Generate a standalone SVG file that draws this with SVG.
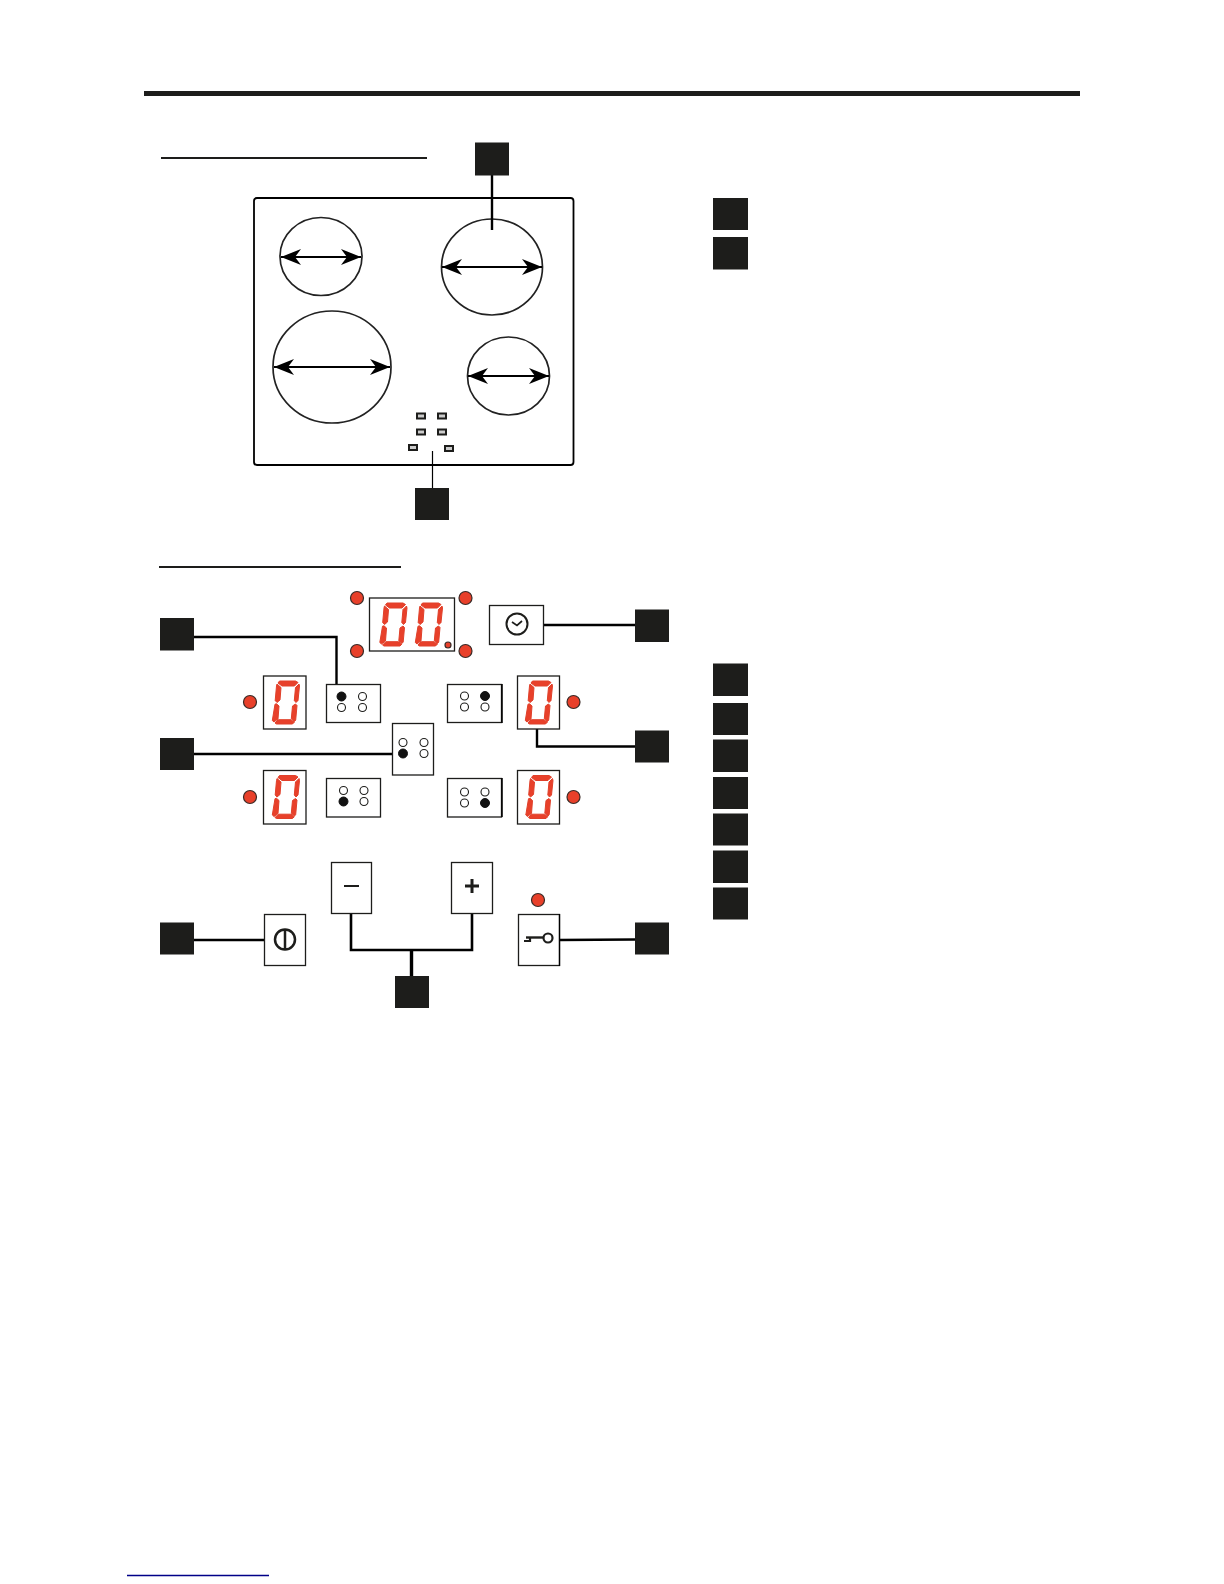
<svg xmlns="http://www.w3.org/2000/svg" xmlns:xlink="http://www.w3.org/1999/xlink" width="1224" height="1584" viewBox="0 0 1224 1584">
<style>
.sq{fill:#1d1d1b}
.box{fill:#fff;stroke:#1d1d1b;stroke-width:1.3}
.led{fill:#e8402a;stroke:#3a2a26;stroke-width:1.2}
.on{fill:#111;stroke:#111;stroke-width:1}
.off{fill:#fff;stroke:#1d1d1b;stroke-width:1.1}
.zone{fill:#fff;stroke:#222;stroke-width:1.7}
.dim{stroke:#000;stroke-width:2.2;fill:none;marker-start:url(#ah);marker-end:url(#ah)}
.wire{fill:none;stroke:#000;stroke-width:2.4}
.seg{fill:#e8402a;stroke:#e0402a;stroke-width:1}
.rule{fill:none;stroke:#1d1d1b}
.key{fill:#ccc;stroke:#1d1d1b;stroke-width:2}
</style>
<defs>
<marker id="ah" viewBox="0 0 20 16" refX="20" refY="8" markerWidth="20" markerHeight="16" markerUnits="userSpaceOnUse" orient="auto-start-reverse"><path d="M0 0L20 8L0 16L6 8Z" fill="#000"/></marker>
<g id="digit">
<polygon class="seg" points="8,0 24,0 26.5,1.5 23,5 10.5,5 6.5,2"/>
<polygon class="seg" points="27.5,3 28,5 26.5,19.5 24.5,21.5 22.8,19.5 24,6.5"/>
<polygon class="seg" points="5.5,3 9.5,6.5 8.5,19 5.5,21.5 3.7,19.5 5,5"/>
<polygon class="seg" points="3.5,23.2 5,22.8 7.5,25 6.5,38 2.5,41 .8,39.5"/>
<polygon class="seg" points="24,23 25.5,24.5 24.2,39 23,40.5 19.8,37.8 21,25"/>
<polygon class="seg" points="3.5,42 6.8,38.7 19.5,38.7 22.8,41.2 21,43 5,43"/>
</g>
</defs>
<rect x="0" y="0" width="1224" height="1584" fill="#fff"/>
<g id="rules">
<rect x="144" y="91" width="936" height="5" class="sq"/>
<line class="rule" stroke-width="2.2" x1="161" y1="158" x2="427" y2="158"/>
<line class="rule" stroke-width="2" x1="159" y1="567" x2="401" y2="567"/>
<line x1="127" y1="1575.500" x2="269" y2="1575.500" stroke="#000088" stroke-width="1.300"/>
</g>
<g id="hob">
<rect x="254" y="198" width="319.500" height="267" rx="3" fill="#fff" stroke="#000" stroke-width="1.800"/>
</g>
<g id="zone-tl"><ellipse class="zone" cx="321" cy="256.500" rx="41" ry="39"/><line class="dim" x1="281" y1="257" x2="361" y2="257"/></g>
<g id="zone-tr"><ellipse class="zone" cx="492" cy="267" rx="50.500" ry="48"/><line class="dim" x1="442" y1="267" x2="542" y2="267"/></g>
<g id="zone-bl"><ellipse class="zone" cx="332" cy="367" rx="59" ry="56"/><line class="dim" x1="274" y1="367" x2="390" y2="367"/></g>
<g id="zone-br"><ellipse class="zone" cx="508.500" cy="376" rx="41" ry="39"/><line class="dim" x1="468" y1="376" x2="549" y2="376"/></g>
<g id="hob-keys">
<rect class="key" x="417" y="413.500" width="8" height="5"/><rect class="key" x="438" y="413.500" width="8" height="5"/>
<rect class="key" x="417" y="429.500" width="8" height="5"/><rect class="key" x="438" y="429.500" width="8" height="5"/>
<rect class="key" x="409" y="445" width="8" height="5"/><rect class="key" x="445" y="446" width="8" height="5"/>
</g>
<g id="connectors">
<path class="wire" d="M492 175V230"/>
<path class="wire" style="stroke-width:1.200" d="M432.500 451V488"/>
<path class="wire" d="M194 637H336.500V684"/>
<path class="wire" d="M194 754H393"/>
<path class="wire" d="M543 625H635"/>
<path class="wire" d="M537 729V746.500H635"/>
<path class="wire" d="M194 940H264"/>
<path class="wire" d="M559 940L635 939.500"/>
<path class="wire" style="stroke-width:2.600" d="M351 913V950H472V913"/>
<path class="wire" style="stroke-width:3.400" d="M411.500 950V976"/>
</g>
<g id="callouts">
<rect class="sq" x="475" y="142.500" width="34" height="33"/>
<rect class="sq" x="415" y="488" width="34" height="32"/>
<rect class="sq" x="160" y="618" width="34" height="32.500"/>
<rect class="sq" x="160" y="738" width="34" height="32"/>
<rect class="sq" x="160" y="922.500" width="34" height="32"/>
<rect class="sq" x="635" y="609.500" width="34" height="32.500"/>
<rect class="sq" x="635" y="730.500" width="34" height="32"/>
<rect class="sq" x="635" y="922.500" width="34" height="32"/>
<rect class="sq" x="395" y="976" width="34" height="32"/>
</g>
<g id="legend">
<rect class="sq" x="713" y="198" width="35" height="32"/>
<rect class="sq" x="713" y="237" width="35" height="32.500"/>
<rect class="sq" x="713" y="663.500" width="35" height="32.500"/>
<rect class="sq" x="713" y="703" width="35" height="32"/>
<rect class="sq" x="713" y="739.500" width="35" height="32.500"/>
<rect class="sq" x="713" y="777" width="35" height="32"/>
<rect class="sq" x="713" y="813.500" width="35" height="32"/>
<rect class="sq" x="713" y="850.500" width="35" height="32.500"/>
<rect class="sq" x="713" y="887.500" width="35" height="32"/>
</g>
<g id="timer-display">
<rect class="box" x="369.500" y="598" width="85" height="53"/>
<use xlink:href="#digit" href="#digit" x="379" y="603"/>
<use xlink:href="#digit" href="#digit" x="414.500" y="603"/>
<circle class="led" cx="448" cy="645" r="3"/>
<circle class="led" cx="357" cy="598" r="6.500"/><circle class="led" cx="465.500" cy="598" r="6.500"/>
<circle class="led" cx="357" cy="651" r="6.500"/><circle class="led" cx="465.500" cy="651" r="6.500"/>
</g>
<g id="clock-key">
<rect class="box" x="489.500" y="605.500" width="54" height="39"/>
<circle cx="517" cy="624" r="10.500" fill="none" stroke="#1d1d1b" stroke-width="2"/>
<path d="M512 622L517 625.500L522 621" fill="none" stroke="#1d1d1b" stroke-width="1.700"/>
</g>
<g id="digit-tl"><rect class="box" x="263.500" y="676" width="42.500" height="53"/><use xlink:href="#digit" href="#digit" x="271.500" y="681"/><circle class="led" cx="250" cy="702" r="6.500"/></g>
<g id="digit-bl"><rect class="box" x="263.500" y="770.500" width="42.500" height="53.500"/><use xlink:href="#digit" href="#digit" x="271.500" y="775.500"/><circle class="led" cx="250" cy="797" r="6.500"/></g>
<g id="digit-tr"><rect class="box" x="517.500" y="676" width="42" height="53"/><use xlink:href="#digit" href="#digit" x="524.500" y="681"/><circle class="led" cx="573.500" cy="702" r="6.500"/></g>
<g id="digit-br"><rect class="box" x="517.500" y="770.500" width="42" height="53.500"/><use xlink:href="#digit" href="#digit" x="525" y="775.500"/><circle class="led" cx="573.500" cy="797" r="6.500"/></g>
<g id="select-tl"><rect class="box" x="326.500" y="684.500" width="54" height="38"/><circle class="on" cx="341.500" cy="696.500" r="4.500"/><circle class="off" cx="362.500" cy="696.500" r="4"/><circle class="off" cx="341.500" cy="707.500" r="4"/><circle class="off" cx="362.500" cy="707.500" r="4"/></g>
<g id="select-tr"><rect class="box" x="447.500" y="684.500" width="54" height="38"/><path d="M502 684V723" stroke="#000" stroke-width="1.500"/><circle class="off" cx="464.500" cy="696" r="4"/><circle class="on" cx="485" cy="696" r="4.500"/><circle class="off" cx="464.500" cy="707" r="4"/><circle class="off" cx="485" cy="707" r="4"/></g>
<g id="select-center"><rect class="box" x="392.500" y="723.500" width="41" height="51.500"/><circle class="off" cx="403" cy="742.500" r="4"/><circle class="off" cx="424" cy="742.500" r="4"/><circle class="on" cx="403" cy="753.500" r="4.500"/><circle class="off" cx="424" cy="753.500" r="4"/></g>
<g id="select-bl"><rect class="box" x="326.500" y="778.500" width="54" height="38.500"/><circle class="off" cx="343.500" cy="790.500" r="4"/><circle class="off" cx="364" cy="790.500" r="4"/><circle class="on" cx="343.500" cy="801.500" r="4.500"/><circle class="off" cx="364" cy="801.500" r="4"/></g>
<g id="select-br"><rect class="box" x="447.500" y="778.500" width="54" height="38.500"/><path d="M502 778V817" stroke="#000" stroke-width="1.500"/><circle class="off" cx="464.500" cy="792" r="4"/><circle class="off" cx="485" cy="792" r="4"/><circle class="off" cx="464.500" cy="803" r="4"/><circle class="on" cx="485" cy="803" r="4.500"/></g>
<g id="minus-key"><rect class="box" x="331.500" y="862.500" width="40" height="51"/><path d="M344 886H359" stroke="#1d1d1b" stroke-width="2"/></g>
<g id="plus-key"><rect class="box" x="451.500" y="862.500" width="41" height="51"/><path d="M465 886H479M472 879V893" stroke="#1d1d1b" stroke-width="3"/></g>
<g id="power-key"><rect class="box" x="264.500" y="914.500" width="41" height="51"/><circle cx="285" cy="939.500" r="10" fill="none" stroke="#1d1d1b" stroke-width="2.500"/><path d="M285 929V950" stroke="#1d1d1b" stroke-width="2.500"/></g>
<g id="lock-key"><rect class="box" x="518.500" y="914.500" width="41" height="51"/><path d="M559.500 914V966" stroke="#000" stroke-width="1.300"/><circle cx="548" cy="938" r="4.500" fill="#fff" stroke="#1d1d1b" stroke-width="2.200"/><path d="M543.500 937.500H526" fill="none" stroke="#1d1d1b" stroke-width="2.400"/><path d="M524 941H530V937" fill="none" stroke="#1d1d1b" stroke-width="2.200"/><circle class="led" cx="538" cy="900" r="6.500"/></g>
</svg>
